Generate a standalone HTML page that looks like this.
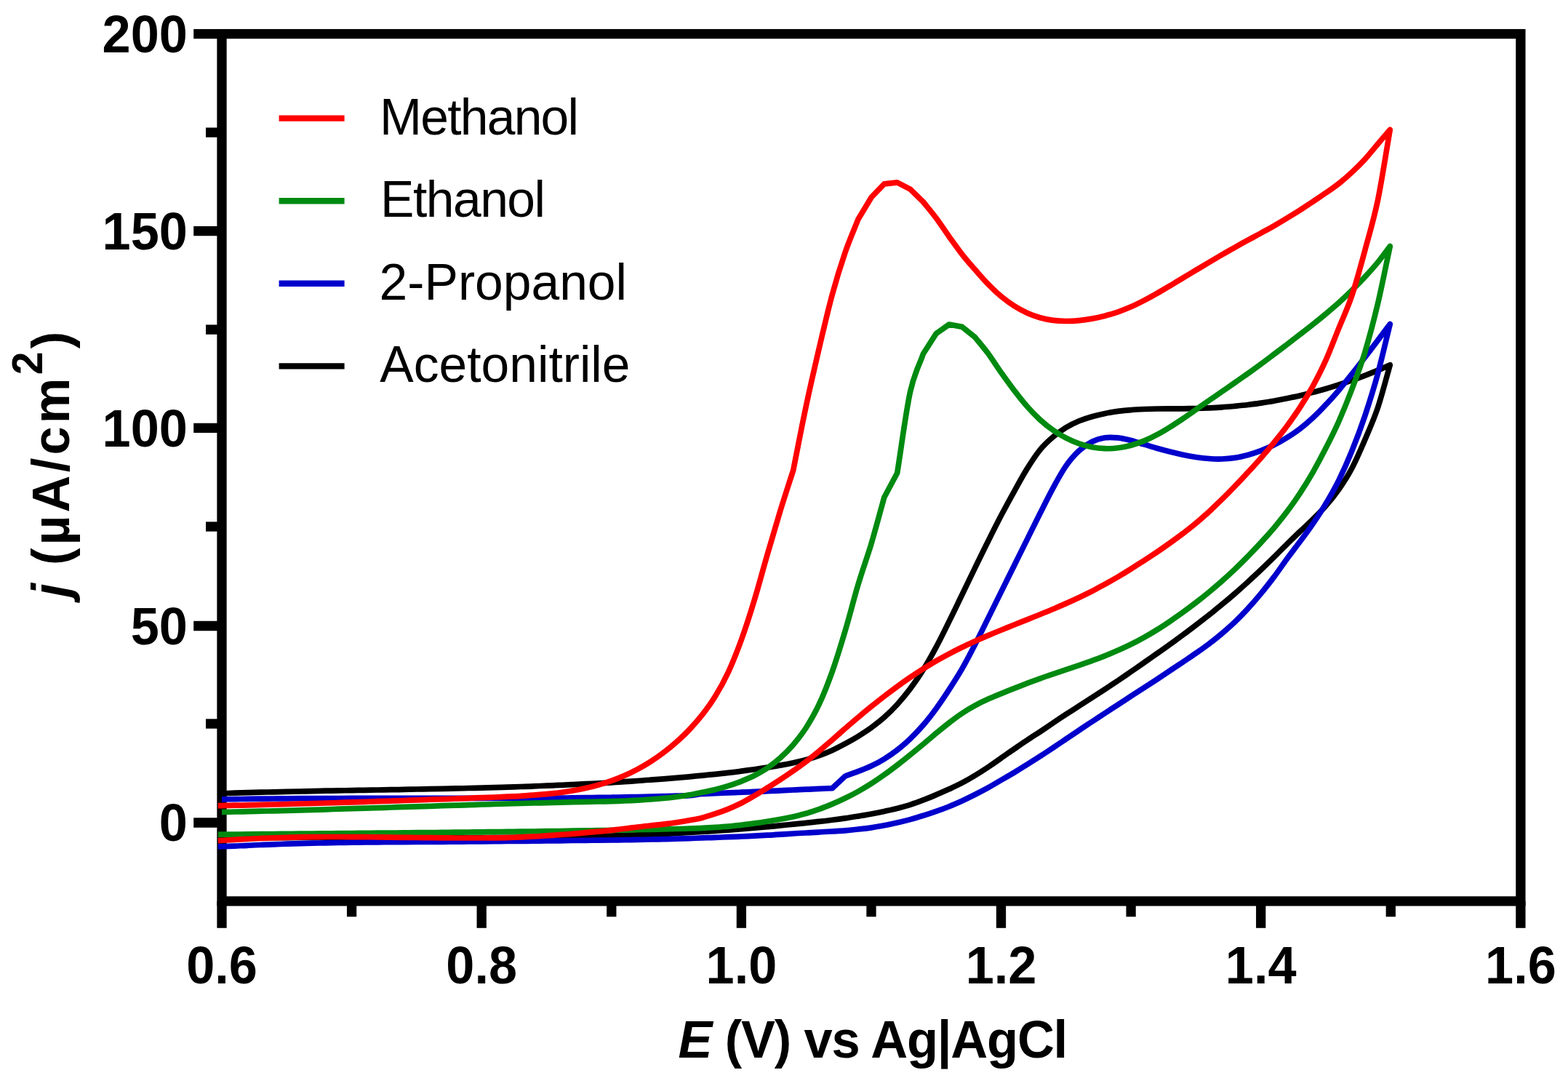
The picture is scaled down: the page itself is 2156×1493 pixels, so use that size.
<!DOCTYPE html>
<html lang="en"><head><meta charset="utf-8"><title>Cyclic voltammograms</title>
<style>
html,body{margin:0;padding:0;background:#fff;}
body{width:2156px;height:1493px;overflow:hidden;}
svg{display:block;}
text{font-family:"Liberation Sans",Arial,Helvetica,sans-serif;fill:#000;}
.b{font-weight:700;}
.tk{font-weight:700;font-size:70.3px;}
.lg{font-weight:400;font-size:69.6px;}
.ax{stroke:#000;stroke-width:13.3;fill:none;stroke-linecap:butt;}
.cv{fill:none;stroke-width:7.7;stroke-linejoin:round;stroke-linecap:butt;}
</style></head><body>
<svg xmlns="http://www.w3.org/2000/svg" width="2156" height="1493" viewBox="0 0 2156 1493">
<rect x="0" y="0" width="2156" height="1493" fill="#ffffff"/>

<rect class="ax" x="305.0" y="46.6" width="1785.9" height="1192.3"/>
<line class="ax" x1="266.2" y1="46.6" x2="305.0" y2="46.6"/>
<line class="ax" x1="266.2" y1="317.6" x2="305.0" y2="317.6"/>
<line class="ax" x1="266.2" y1="588.4" x2="305.0" y2="588.4"/>
<line class="ax" x1="266.2" y1="860.5" x2="305.0" y2="860.5"/>
<line class="ax" x1="266.2" y1="1131.0" x2="305.0" y2="1131.0"/>
<line class="ax" x1="283.0" y1="182.1" x2="305.0" y2="182.1"/>
<line class="ax" x1="283.0" y1="453.1" x2="305.0" y2="453.1"/>
<line class="ax" x1="283.0" y1="724.0" x2="305.0" y2="724.0"/>
<line class="ax" x1="283.0" y1="995.0" x2="305.0" y2="995.0"/>
<line class="ax" x1="305.0" y1="1238.9" x2="305.0" y2="1275.8"/>
<line class="ax" x1="662.2" y1="1238.9" x2="662.2" y2="1275.8"/>
<line class="ax" x1="1019.4" y1="1238.9" x2="1019.4" y2="1275.8"/>
<line class="ax" x1="1376.5" y1="1238.9" x2="1376.5" y2="1275.8"/>
<line class="ax" x1="1733.7" y1="1238.9" x2="1733.7" y2="1275.8"/>
<line class="ax" x1="2090.9" y1="1238.9" x2="2090.9" y2="1275.8"/>
<line class="ax" x1="483.6" y1="1238.9" x2="483.6" y2="1260.3"/>
<line class="ax" x1="840.8" y1="1238.9" x2="840.8" y2="1260.3"/>
<line class="ax" x1="1198.0" y1="1238.9" x2="1198.0" y2="1260.3"/>
<line class="ax" x1="1555.1" y1="1238.9" x2="1555.1" y2="1260.3"/>
<line class="ax" x1="1912.3" y1="1238.9" x2="1912.3" y2="1260.3"/>
<path class="cv" stroke="#000000" d="M305.0,1090.8C311.0,1090.6 316.9,1090.4 322.9,1090.2C328.8,1090.0 334.8,1089.9 340.7,1089.7C346.7,1089.5 352.6,1089.4 358.6,1089.2C364.5,1089.1 370.5,1088.9 376.4,1088.8C382.4,1088.6 388.3,1088.5 394.3,1088.3C400.2,1088.2 406.2,1088.1 412.2,1088.0C418.1,1087.8 424.1,1087.7 430.0,1087.6C436.0,1087.5 441.9,1087.4 447.9,1087.2C453.8,1087.1 459.8,1087.0 465.7,1086.9C471.7,1086.8 477.6,1086.7 483.6,1086.6C489.5,1086.5 495.5,1086.4 501.4,1086.3C507.4,1086.2 513.4,1086.1 519.3,1086.0C525.3,1085.9 531.2,1085.8 537.2,1085.7C543.1,1085.6 549.1,1085.5 555.0,1085.3C561.0,1085.2 566.9,1085.1 572.9,1085.0C578.8,1084.9 584.8,1084.8 590.7,1084.7C596.7,1084.6 602.7,1084.4 608.6,1084.3C614.6,1084.2 620.5,1084.1 626.5,1083.9C632.4,1083.8 638.4,1083.7 644.3,1083.5C650.3,1083.4 656.2,1083.2 662.2,1083.1C668.1,1082.9 674.1,1082.8 680.0,1082.6C686.0,1082.4 691.9,1082.2 697.9,1082.1C703.9,1081.9 709.8,1081.7 715.8,1081.5C721.7,1081.3 727.7,1081.1 733.6,1080.8C739.6,1080.6 745.5,1080.4 751.5,1080.2C757.4,1079.9 763.4,1079.7 769.3,1079.4C775.3,1079.2 781.2,1078.9 787.2,1078.6C793.1,1078.3 799.1,1078.0 805.1,1077.7C811.0,1077.4 817.0,1077.1 822.9,1076.8C828.9,1076.5 834.8,1076.1 840.8,1075.8C846.7,1075.4 852.7,1075.0 858.6,1074.7C864.6,1074.3 870.5,1073.9 876.5,1073.5C882.4,1073.0 888.4,1072.6 894.3,1072.2C900.3,1071.7 906.3,1071.3 912.2,1070.8C918.2,1070.3 924.1,1069.8 930.1,1069.3C936.0,1068.8 942.0,1068.3 947.9,1067.8C953.9,1067.2 959.8,1066.7 965.8,1066.1C971.7,1065.5 977.7,1064.9 983.6,1064.3C989.6,1063.6 995.5,1063.0 1001.5,1062.3C1007.5,1061.6 1013.4,1060.9 1019.4,1060.1C1025.3,1059.3 1031.3,1058.5 1037.2,1057.7C1043.2,1056.8 1049.1,1055.9 1055.1,1055.0C1061.0,1054.0 1067.0,1053.2 1072.9,1052.1C1078.9,1051.1 1084.8,1050.0 1090.8,1048.7C1096.7,1047.4 1102.7,1046.1 1108.7,1044.4C1114.6,1042.7 1120.6,1040.8 1126.5,1038.6C1132.5,1036.5 1138.4,1034.1 1144.4,1031.4C1150.3,1028.7 1156.3,1025.6 1162.2,1022.4C1168.2,1019.2 1174.1,1015.9 1180.1,1012.2C1186.0,1008.5 1192.0,1004.7 1198.0,1000.4C1203.9,996.0 1209.9,991.5 1215.8,986.2C1221.8,980.9 1227.7,975.0 1233.7,968.5C1239.6,961.9 1245.6,954.8 1251.5,946.9C1257.5,938.9 1263.4,930.3 1269.4,920.8C1275.3,911.3 1281.3,900.7 1287.2,889.6C1293.2,878.5 1299.2,866.2 1305.1,854.1C1311.1,842.1 1317.0,829.6 1323.0,817.3C1328.9,805.0 1334.9,792.5 1340.8,780.3C1346.8,768.1 1352.7,755.9 1358.7,744.0C1364.6,732.1 1370.6,720.2 1376.5,708.8C1382.5,697.5 1388.4,686.5 1394.4,675.8C1400.4,665.0 1406.3,653.9 1412.3,644.4C1418.2,634.8 1424.2,625.6 1430.1,618.3C1436.1,611.0 1442.0,605.7 1448.0,600.6C1453.9,595.6 1459.9,591.5 1465.8,587.8C1471.8,584.2 1477.7,581.3 1483.7,578.8C1489.6,576.3 1495.6,574.4 1501.6,572.7C1507.5,571.0 1513.5,569.6 1519.4,568.4C1525.4,567.2 1531.3,566.2 1537.3,565.4C1543.2,564.6 1549.2,564.0 1555.1,563.6C1561.1,563.1 1567.0,562.8 1573.0,562.5C1578.9,562.3 1584.9,562.2 1590.8,562.0C1596.8,561.9 1602.8,561.9 1608.7,561.9C1614.7,561.8 1620.6,561.8 1626.6,561.8C1632.5,561.7 1638.5,561.6 1644.4,561.5C1650.4,561.3 1656.3,561.1 1662.3,560.9C1668.2,560.6 1674.2,560.3 1680.1,559.8C1686.1,559.4 1692.0,558.9 1698.0,558.4C1704.0,557.8 1709.9,557.2 1715.9,556.5C1721.8,555.7 1727.8,555.0 1733.7,554.1C1739.7,553.2 1745.6,552.3 1751.6,551.2C1757.5,550.2 1763.5,549.0 1769.4,547.8C1775.4,546.6 1781.3,545.3 1787.3,543.9C1793.3,542.5 1799.2,541.0 1805.2,539.4C1811.1,537.9 1817.1,536.2 1823.0,534.5C1829.0,532.7 1834.9,530.9 1840.9,529.0C1846.8,527.1 1852.8,525.0 1858.7,522.9C1864.7,520.8 1870.6,518.6 1876.6,516.3C1882.5,514.0 1888.7,511.5 1894.5,509.1C1900.2,506.7 1905.7,504.2 1911.3,501.8C1905.7,521.3 1900.2,543.2 1894.5,560.4C1888.7,577.6 1882.5,591.1 1876.6,605.0C1870.6,619.0 1864.7,632.7 1858.7,644.0C1852.8,655.3 1846.8,664.3 1840.9,672.9C1834.9,681.5 1829.0,688.7 1823.0,695.5C1817.1,702.4 1811.1,708.0 1805.2,713.9C1799.2,719.8 1793.3,725.2 1787.3,730.9C1781.3,736.6 1775.4,742.3 1769.4,748.2C1763.5,754.0 1757.5,760.2 1751.6,766.0C1745.6,771.9 1739.7,777.8 1733.7,783.4C1727.8,789.1 1721.8,794.6 1715.9,800.0C1709.9,805.5 1704.0,810.8 1698.0,816.0C1692.0,821.2 1686.1,826.2 1680.1,831.1C1674.2,836.0 1668.2,840.7 1662.3,845.5C1656.3,850.2 1650.4,854.8 1644.4,859.3C1638.5,863.9 1632.5,868.3 1626.6,872.8C1620.6,877.2 1614.7,881.5 1608.7,885.8C1602.8,890.1 1596.8,894.3 1590.8,898.5C1584.9,902.7 1578.9,906.9 1573.0,911.0C1567.0,915.2 1561.1,919.3 1555.1,923.4C1549.2,927.5 1543.2,931.6 1537.3,935.6C1531.3,939.6 1525.4,943.5 1519.4,947.5C1513.5,951.4 1507.5,955.2 1501.6,959.1C1495.6,962.9 1489.6,966.8 1483.7,970.6C1477.7,974.4 1471.8,978.2 1465.8,982.1C1459.9,985.9 1453.9,989.9 1448.0,993.9C1442.0,997.9 1436.1,1002.0 1430.1,1006.0C1424.2,1009.9 1418.2,1013.6 1412.3,1017.6C1406.3,1021.5 1400.4,1025.6 1394.4,1029.7C1388.4,1033.8 1382.5,1038.1 1376.5,1042.2C1370.6,1046.4 1364.6,1050.6 1358.7,1054.6C1352.7,1058.6 1346.8,1062.4 1340.8,1066.0C1334.9,1069.6 1328.9,1073.1 1323.0,1076.2C1317.0,1079.3 1311.1,1082.0 1305.1,1084.8C1299.2,1087.5 1293.2,1090.1 1287.2,1092.6C1281.3,1095.2 1275.3,1097.6 1269.4,1099.9C1263.4,1102.2 1257.5,1104.4 1251.5,1106.3C1245.6,1108.2 1239.6,1109.8 1233.7,1111.4C1227.7,1112.9 1221.8,1114.1 1215.8,1115.4C1209.9,1116.7 1203.9,1117.9 1198.0,1119.0C1192.0,1120.1 1186.0,1121.2 1180.1,1122.1C1174.1,1123.1 1168.2,1124.1 1162.2,1124.9C1156.3,1125.8 1150.3,1126.6 1144.4,1127.3C1138.4,1128.1 1132.5,1128.8 1126.5,1129.4C1120.6,1130.1 1114.6,1130.7 1108.7,1131.3C1102.7,1131.9 1096.7,1132.5 1090.8,1133.1C1084.8,1133.7 1078.9,1134.3 1072.9,1134.9C1067.0,1135.5 1061.0,1136.1 1055.1,1136.7C1049.1,1137.2 1043.2,1137.7 1037.2,1138.2C1031.3,1138.7 1025.3,1139.2 1019.4,1139.7C1013.4,1140.2 1007.5,1140.6 1001.5,1141.1C995.5,1141.5 989.6,1141.9 983.6,1142.3C977.7,1142.7 971.7,1143.1 965.8,1143.5C959.8,1143.8 953.9,1144.2 947.9,1144.5C942.0,1144.8 936.0,1145.2 930.1,1145.5C924.1,1145.8 918.2,1146.1 912.2,1146.3C906.3,1146.6 900.3,1146.9 894.3,1147.1C888.4,1147.4 882.4,1147.6 876.5,1147.8C870.5,1148.0 864.6,1148.2 858.6,1148.4C852.7,1148.6 846.7,1148.8 840.8,1149.0C834.8,1149.2 828.9,1149.3 822.9,1149.5C817.0,1149.6 811.0,1149.8 805.1,1149.9C799.1,1150.0 793.1,1150.1 787.2,1150.2C781.2,1150.4 775.3,1150.5 769.3,1150.5C763.4,1150.6 757.4,1150.7 751.5,1150.8C745.5,1150.9 739.6,1150.9 733.6,1151.0C727.7,1151.1 721.7,1151.1 715.8,1151.2C709.8,1151.2 703.9,1151.3 697.9,1151.3C691.9,1151.3 686.0,1151.4 680.0,1151.4C674.1,1151.4 668.1,1151.4 662.2,1151.5C656.2,1151.5 650.3,1151.5 644.3,1151.5C638.4,1151.5 632.4,1151.5 626.5,1151.5C620.5,1151.5 614.6,1151.5 608.6,1151.5C602.7,1151.5 596.7,1151.5 590.7,1151.5C584.8,1151.5 578.8,1151.5 572.9,1151.5C566.9,1151.4 561.0,1151.4 555.0,1151.4C549.1,1151.4 543.1,1151.4 537.2,1151.4C531.2,1151.4 525.3,1151.4 519.3,1151.4C513.4,1151.4 507.4,1151.3 501.4,1151.3C495.5,1151.3 489.5,1151.3 483.6,1151.3C477.6,1151.3 471.7,1151.3 465.7,1151.3C459.8,1151.3 453.8,1151.4 447.9,1151.4C441.9,1151.4 436.0,1151.4 430.0,1151.4C424.1,1151.4 418.1,1151.5 412.2,1151.5C406.2,1151.5 400.2,1151.6 394.3,1151.6C388.3,1151.7 382.4,1151.7 376.4,1151.8C370.5,1151.8 364.5,1151.9 358.6,1152.0C352.6,1152.0 346.7,1152.1 340.7,1152.2C334.8,1152.3 329.7,1152.4 322.9,1152.5C316.0,1152.6 307.5,1152.8 299.8,1152.9"/>
<path class="cv" stroke="#0000cc" d="M305.0,1098.9C311.0,1098.8 316.9,1098.7 322.9,1098.6C328.8,1098.5 334.8,1098.5 340.7,1098.4C346.7,1098.3 352.6,1098.2 358.6,1098.2C364.5,1098.1 370.5,1098.0 376.4,1098.0C382.4,1097.9 388.3,1097.9 394.3,1097.8C400.2,1097.8 406.2,1097.7 412.2,1097.7C418.1,1097.7 424.1,1097.6 430.0,1097.6C436.0,1097.6 441.9,1097.5 447.9,1097.5C453.8,1097.5 459.8,1097.5 465.7,1097.5C471.7,1097.4 477.6,1097.4 483.6,1097.4C489.5,1097.4 495.5,1097.4 501.4,1097.4C507.4,1097.4 513.4,1097.4 519.3,1097.4C525.3,1097.4 531.2,1097.4 537.2,1097.4C543.1,1097.4 549.1,1097.4 555.0,1097.4C561.0,1097.4 566.9,1097.4 572.9,1097.4C578.8,1097.4 584.8,1097.4 590.7,1097.4C596.7,1097.4 602.7,1097.4 608.6,1097.4C614.6,1097.4 620.5,1097.4 626.5,1097.4C632.4,1097.4 638.4,1097.4 644.3,1097.4C650.3,1097.4 656.2,1097.4 662.2,1097.4C668.1,1097.4 674.1,1097.4 680.0,1097.4C686.0,1097.4 691.9,1097.4 697.9,1097.4C703.9,1097.4 709.8,1097.3 715.8,1097.3C721.7,1097.3 727.7,1097.3 733.6,1097.2C739.6,1097.2 745.5,1097.2 751.5,1097.1C757.4,1097.1 763.4,1097.0 769.3,1097.0C775.3,1097.0 781.2,1096.9 787.2,1096.8C793.1,1096.8 799.1,1096.7 805.1,1096.7C811.0,1096.6 817.0,1096.5 822.9,1096.4C828.9,1096.3 834.8,1096.2 840.8,1096.2C846.7,1096.1 852.7,1095.9 858.6,1095.8C864.6,1095.7 870.5,1095.6 876.5,1095.5C882.4,1095.4 888.4,1095.2 894.3,1095.1C900.3,1094.9 906.3,1094.8 912.2,1094.6C918.2,1094.5 924.1,1094.3 930.1,1094.1C936.0,1094.0 942.0,1094.0 947.9,1093.6C953.9,1093.1 959.8,1091.9 965.8,1091.5C971.7,1091.0 977.7,1090.9 983.6,1090.6C989.6,1090.4 995.5,1090.1 1001.5,1089.9C1007.5,1089.7 1013.4,1089.4 1019.4,1089.2C1025.3,1088.9 1031.3,1088.7 1037.2,1088.4C1043.2,1088.2 1049.1,1088.0 1055.1,1087.7C1061.0,1087.4 1067.0,1087.1 1072.9,1086.9C1078.9,1086.6 1084.8,1086.3 1090.8,1086.0C1096.7,1085.8 1102.7,1085.5 1108.7,1085.2C1114.6,1085.0 1120.6,1084.7 1126.5,1084.4C1132.5,1084.1 1138.4,1083.9 1144.4,1083.6L1162.2,1067.0C1168.2,1064.8 1174.1,1062.7 1180.1,1060.4C1186.0,1058.0 1192.0,1055.9 1198.0,1053.0C1203.9,1050.2 1209.9,1047.1 1215.8,1043.4C1221.8,1039.7 1227.7,1035.7 1233.7,1031.1C1239.6,1026.5 1245.6,1021.4 1251.5,1015.7C1257.5,1010.0 1263.4,1003.8 1269.4,996.9C1275.3,990.0 1281.3,982.4 1287.2,974.2C1293.2,966.0 1299.2,957.0 1305.1,947.9C1311.1,938.7 1317.0,929.6 1323.0,919.2C1328.9,908.9 1334.9,897.3 1340.8,885.8C1346.8,874.2 1352.7,861.9 1358.7,849.9C1364.6,837.9 1370.6,825.9 1376.5,813.9C1382.5,801.8 1388.4,789.8 1394.4,777.7C1400.4,765.7 1406.3,753.5 1412.3,741.6C1418.2,729.6 1424.2,717.6 1430.1,705.8C1436.1,694.0 1442.0,681.7 1448.0,670.8C1453.9,659.9 1459.9,648.9 1465.8,640.4C1471.8,631.9 1477.7,625.2 1483.7,619.7C1489.6,614.2 1495.6,610.3 1501.6,607.3C1507.5,604.3 1513.5,602.7 1519.4,601.8C1525.4,600.9 1531.3,601.3 1537.3,601.9C1543.2,602.5 1549.2,604.1 1555.1,605.5C1561.1,607.0 1567.0,609.1 1573.0,610.9C1578.9,612.6 1584.9,614.6 1590.8,616.3C1596.8,618.0 1602.8,619.6 1608.7,621.1C1614.7,622.6 1620.6,624.0 1626.6,625.2C1632.5,626.5 1638.5,627.6 1644.4,628.5C1650.4,629.4 1656.3,630.1 1662.3,630.5C1668.2,631.0 1674.2,631.2 1680.1,631.0C1686.1,630.8 1692.0,630.3 1698.0,629.4C1704.0,628.5 1709.9,627.1 1715.9,625.5C1721.8,623.9 1727.8,621.9 1733.7,619.7C1739.7,617.4 1745.6,614.8 1751.6,611.8C1757.5,608.8 1763.5,605.4 1769.4,601.7C1775.4,598.0 1781.3,594.1 1787.3,589.6C1793.3,585.0 1799.2,579.9 1805.2,574.4C1811.1,568.8 1817.1,562.8 1823.0,556.4C1829.0,550.1 1834.9,543.4 1840.9,536.4C1846.8,529.3 1852.8,521.8 1858.7,514.4C1864.7,506.9 1870.6,499.2 1876.6,491.5C1882.5,483.7 1888.7,475.6 1894.5,467.9C1900.2,460.2 1905.7,453.0 1911.3,445.5C1905.7,468.2 1900.2,492.6 1894.5,513.7C1888.7,534.9 1882.5,554.4 1876.6,572.2C1870.6,589.9 1864.7,605.6 1858.7,620.3C1852.8,634.9 1846.8,648.2 1840.9,660.2C1834.9,672.2 1829.0,682.5 1823.0,692.5C1817.1,702.5 1811.1,711.4 1805.2,720.1C1799.2,728.8 1793.3,736.8 1787.3,744.8C1781.3,752.9 1775.4,760.4 1769.4,768.5C1763.5,776.6 1757.5,785.5 1751.6,793.4C1745.6,801.3 1739.7,808.9 1733.7,816.1C1727.8,823.3 1721.8,830.2 1715.9,836.6C1709.9,843.1 1704.0,849.2 1698.0,855.0C1692.0,860.7 1686.1,865.9 1680.1,871.0C1674.2,876.0 1668.2,880.7 1662.3,885.2C1656.3,889.7 1650.4,893.9 1644.4,898.0C1638.5,902.2 1632.5,906.1 1626.6,910.1C1620.6,914.1 1614.7,918.1 1608.7,922.0C1602.8,926.0 1596.8,930.0 1590.8,934.0C1584.9,937.9 1578.9,941.7 1573.0,945.6C1567.0,949.4 1561.1,953.3 1555.1,957.1C1549.2,961.0 1543.2,964.9 1537.3,968.7C1531.3,972.6 1525.4,976.5 1519.4,980.4C1513.5,984.3 1507.5,988.2 1501.6,992.1C1495.6,996.1 1489.6,1000.0 1483.7,1004.0C1477.7,1008.0 1471.8,1012.0 1465.8,1016.0C1459.9,1020.0 1453.9,1024.1 1448.0,1028.0C1442.0,1032.0 1436.1,1035.9 1430.1,1039.8C1424.2,1043.6 1418.2,1047.4 1412.3,1051.1C1406.3,1054.9 1400.4,1058.5 1394.4,1062.1C1388.4,1065.6 1382.5,1069.0 1376.5,1072.5C1370.6,1076.0 1364.6,1079.6 1358.7,1082.9C1352.7,1086.2 1346.8,1089.3 1340.8,1092.3C1334.9,1095.4 1328.9,1098.2 1323.0,1101.0C1317.0,1103.7 1311.1,1106.3 1305.1,1108.7C1299.2,1111.1 1293.2,1113.3 1287.2,1115.4C1281.3,1117.5 1275.3,1119.5 1269.4,1121.3C1263.4,1123.2 1257.5,1125.0 1251.5,1126.6C1245.6,1128.2 1239.6,1129.7 1233.7,1131.0C1227.7,1132.4 1221.8,1133.6 1215.8,1134.8C1209.9,1135.9 1203.9,1137.0 1198.0,1137.9C1192.0,1138.8 1186.0,1139.4 1180.1,1140.0C1174.1,1140.7 1168.2,1141.3 1162.2,1141.8C1156.3,1142.3 1150.3,1142.6 1144.4,1143.0C1138.4,1143.3 1132.5,1143.6 1126.5,1144.0C1120.6,1144.3 1114.6,1144.6 1108.7,1145.0C1102.7,1145.3 1096.7,1145.6 1090.8,1146.0C1084.8,1146.4 1078.9,1146.7 1072.9,1147.1C1067.0,1147.5 1061.0,1147.9 1055.1,1148.2C1049.1,1148.5 1043.2,1148.8 1037.2,1149.1C1031.3,1149.4 1025.3,1149.7 1019.4,1150.0C1013.4,1150.2 1007.5,1150.5 1001.5,1150.7C995.5,1150.9 989.6,1151.1 983.6,1151.3C977.7,1151.6 971.7,1151.7 965.8,1151.9C959.8,1152.1 953.9,1152.4 947.9,1152.6C942.0,1152.8 936.0,1152.9 930.1,1153.1C924.1,1153.3 918.2,1153.5 912.2,1153.6C906.3,1153.8 900.3,1153.9 894.3,1154.0C888.4,1154.2 882.4,1154.3 876.5,1154.4C870.5,1154.5 864.6,1154.6 858.6,1154.7C852.7,1154.8 846.7,1154.9 840.8,1155.0C834.8,1155.0 828.9,1155.1 822.9,1155.2C817.0,1155.2 811.0,1155.3 805.1,1155.3C799.1,1155.4 793.1,1155.5 787.2,1155.5C781.2,1155.6 775.3,1155.7 769.3,1155.8C763.4,1155.9 757.4,1155.9 751.5,1156.0C745.5,1156.1 739.6,1156.1 733.6,1156.2C727.7,1156.3 721.7,1156.3 715.8,1156.4C709.8,1156.4 703.9,1156.5 697.9,1156.5C691.9,1156.6 686.0,1156.7 680.0,1156.7C674.1,1156.8 668.1,1156.8 662.2,1156.8C656.2,1156.9 650.3,1156.9 644.3,1157.0C638.4,1157.1 632.4,1157.1 626.5,1157.2C620.5,1157.2 614.6,1157.3 608.6,1157.3C602.7,1157.4 596.7,1157.4 590.7,1157.4C584.8,1157.5 578.8,1157.5 572.9,1157.5C566.9,1157.5 561.0,1157.5 555.0,1157.6C549.1,1157.6 543.1,1157.6 537.2,1157.7C531.2,1157.7 525.3,1157.8 519.3,1157.8C513.4,1157.9 507.4,1157.9 501.4,1158.0C495.5,1158.1 489.5,1158.1 483.6,1158.2C477.6,1158.3 471.7,1158.4 465.7,1158.5C459.8,1158.6 453.8,1158.7 447.9,1158.8C441.9,1158.9 436.0,1159.1 430.0,1159.2C424.1,1159.4 418.1,1159.5 412.2,1159.7C406.2,1159.8 400.2,1160.0 394.3,1160.2C388.3,1160.4 382.4,1160.6 376.4,1160.8C370.5,1161.0 364.5,1161.2 358.6,1161.5C352.6,1161.7 346.7,1162.0 340.7,1162.3C334.8,1162.5 329.7,1162.8 322.9,1163.1C316.0,1163.3 307.5,1163.6 299.8,1163.9"/>
<path class="cv" stroke="#008a10" d="M305.0,1116.4C311.0,1116.3 316.9,1116.2 322.9,1116.0C328.8,1115.9 334.8,1115.8 340.7,1115.6C346.7,1115.5 352.6,1115.4 358.6,1115.2C364.5,1115.1 370.5,1114.9 376.4,1114.8C382.4,1114.6 388.3,1114.5 394.3,1114.3C400.2,1114.1 406.2,1114.0 412.2,1113.8C418.1,1113.6 424.1,1113.5 430.0,1113.3C436.0,1113.1 441.9,1112.9 447.9,1112.8C453.8,1112.6 459.8,1112.4 465.7,1112.2C471.7,1112.0 477.6,1111.9 483.6,1111.7C489.5,1111.5 495.5,1111.3 501.4,1111.1C507.4,1110.9 513.4,1110.7 519.3,1110.6C525.3,1110.4 531.2,1110.2 537.2,1110.0C543.1,1109.8 549.1,1109.6 555.0,1109.4C561.0,1109.2 566.9,1109.0 572.9,1108.8C578.8,1108.6 584.8,1108.5 590.7,1108.3C596.7,1108.1 602.7,1107.9 608.6,1107.7C614.6,1107.5 620.5,1107.3 626.5,1107.1C632.4,1107.0 638.4,1106.8 644.3,1106.6C650.3,1106.4 656.2,1106.2 662.2,1106.0C668.1,1105.9 674.1,1105.7 680.0,1105.5C686.0,1105.3 691.9,1105.2 697.9,1105.0C703.9,1104.8 709.8,1104.7 715.8,1104.5C721.7,1104.3 727.7,1104.2 733.6,1104.0C739.6,1103.9 745.5,1103.7 751.5,1103.6C757.4,1103.4 763.4,1103.3 769.3,1103.1C775.3,1103.0 781.2,1102.9 787.2,1102.7C793.1,1102.6 799.1,1102.5 805.1,1102.4C811.0,1102.2 817.0,1102.1 822.9,1102.0C828.9,1101.9 834.8,1101.9 840.8,1101.7C846.7,1101.5 852.7,1101.2 858.6,1101.0C864.6,1100.7 870.5,1100.4 876.5,1100.1C882.4,1099.8 888.4,1099.4 894.3,1099.0C900.3,1098.6 906.3,1098.1 912.2,1097.5C918.2,1097.0 924.1,1096.3 930.1,1095.5C936.0,1094.8 942.0,1093.9 947.9,1092.8C953.9,1091.8 959.8,1090.4 965.8,1089.2C971.7,1088.0 977.7,1086.9 983.6,1085.4C989.6,1083.9 995.5,1082.3 1001.5,1080.4C1007.5,1078.6 1013.4,1076.5 1019.4,1074.1C1025.3,1071.7 1031.3,1069.3 1037.2,1066.3C1043.2,1063.2 1049.1,1060.0 1055.1,1055.9C1061.0,1051.8 1067.0,1047.2 1072.9,1041.9C1078.9,1036.5 1084.8,1030.7 1090.8,1023.7C1096.7,1016.7 1102.7,1009.3 1108.7,1000.0C1114.6,990.6 1120.6,980.5 1126.5,967.7C1132.5,954.9 1138.4,939.9 1144.4,923.1C1150.3,906.3 1156.3,886.9 1162.2,866.9C1168.2,846.9 1174.1,823.1 1180.1,803.2C1186.0,783.3 1192.0,767.5 1198.0,747.6C1203.9,727.6 1209.9,705.0 1215.8,683.7L1233.7,650.2C1239.6,613.1 1245.6,566.2 1251.5,538.9C1257.5,511.6 1263.4,504.0 1269.4,486.5L1287.2,458.7L1305.1,446.0L1323.0,449.4L1340.8,463.8C1346.8,471.2 1352.7,478.0 1358.7,486.0C1364.6,494.1 1370.6,503.7 1376.5,512.1C1382.5,520.5 1388.4,528.8 1394.4,536.6C1400.4,544.4 1406.3,552.1 1412.3,558.8C1418.2,565.6 1424.2,571.6 1430.1,577.1C1436.1,582.5 1442.0,587.2 1448.0,591.4C1453.9,595.6 1459.9,599.1 1465.8,602.2C1471.8,605.3 1477.7,607.8 1483.7,609.9C1489.6,612.0 1495.6,613.6 1501.6,614.8C1507.5,615.9 1513.5,616.5 1519.4,616.7C1525.4,616.9 1531.3,616.6 1537.3,615.8C1543.2,615.1 1549.2,613.9 1555.1,612.3C1561.1,610.6 1567.0,608.5 1573.0,606.1C1578.9,603.7 1584.9,600.8 1590.8,597.6C1596.8,594.5 1602.8,590.9 1608.7,587.2C1614.7,583.6 1620.6,579.5 1626.6,575.5C1632.5,571.5 1638.5,567.3 1644.4,563.2C1650.4,559.0 1656.3,554.9 1662.3,550.7C1668.2,546.6 1674.2,542.5 1680.1,538.4C1686.1,534.3 1692.0,530.2 1698.0,526.0C1704.0,521.9 1709.9,517.7 1715.9,513.5C1721.8,509.2 1727.8,504.9 1733.7,500.6C1739.7,496.2 1745.6,491.7 1751.6,487.2C1757.5,482.8 1763.5,478.2 1769.4,473.7C1775.4,469.1 1781.3,464.5 1787.3,459.9C1793.3,455.3 1799.2,450.8 1805.2,446.0C1811.1,441.3 1817.1,436.5 1823.0,431.5C1829.0,426.5 1834.9,421.6 1840.9,416.2C1846.8,410.8 1852.8,405.2 1858.7,399.3C1864.7,393.4 1870.6,387.4 1876.6,380.9C1882.5,374.5 1888.7,367.7 1894.5,360.6C1900.2,353.6 1905.7,345.9 1911.3,338.6C1905.7,364.9 1900.2,393.1 1894.5,417.4C1888.7,441.8 1882.5,465.1 1876.6,484.8C1870.6,504.5 1864.7,519.8 1858.7,535.5C1852.8,551.2 1846.8,565.7 1840.9,579.2C1834.9,592.6 1829.0,604.4 1823.0,616.1C1817.1,627.8 1811.1,638.9 1805.2,649.3C1799.2,659.7 1793.3,669.3 1787.3,678.4C1781.3,687.5 1775.4,695.8 1769.4,703.7C1763.5,711.6 1757.5,718.9 1751.6,726.0C1745.6,733.0 1739.7,739.6 1733.7,746.0C1727.8,752.5 1721.8,758.7 1715.9,764.8C1709.9,770.9 1704.0,776.8 1698.0,782.5C1692.0,788.2 1686.1,793.6 1680.1,798.9C1674.2,804.2 1668.2,809.2 1662.3,814.1C1656.3,819.1 1650.4,823.8 1644.4,828.4C1638.5,832.9 1632.5,837.4 1626.6,841.7C1620.6,846.0 1614.7,850.2 1608.7,854.2C1602.8,858.2 1596.8,862.2 1590.8,865.9C1584.9,869.6 1578.9,873.1 1573.0,876.4C1567.0,879.8 1561.1,882.9 1555.1,885.8C1549.2,888.8 1543.2,891.5 1537.3,894.1C1531.3,896.8 1525.4,899.2 1519.4,901.6C1513.5,903.9 1507.5,906.1 1501.6,908.3C1495.6,910.4 1489.6,912.5 1483.7,914.6C1477.7,916.6 1471.8,918.6 1465.8,920.6C1459.9,922.6 1453.9,924.6 1448.0,926.6C1442.0,928.6 1436.1,930.6 1430.1,932.8C1424.2,934.9 1418.2,937.1 1412.3,939.4C1406.3,941.7 1400.4,944.0 1394.4,946.4C1388.4,948.7 1382.5,951.1 1376.5,953.6C1370.6,956.0 1364.6,958.4 1358.7,961.1C1352.7,963.8 1346.8,966.6 1340.8,969.9C1334.9,973.1 1328.9,976.6 1323.0,980.6C1317.0,984.5 1311.1,989.0 1305.1,993.6C1299.2,998.2 1293.2,1003.2 1287.2,1008.1C1281.3,1013.0 1275.3,1018.2 1269.4,1023.1C1263.4,1028.1 1257.5,1032.9 1251.5,1037.7C1245.6,1042.5 1239.6,1047.3 1233.7,1051.9C1227.7,1056.5 1221.8,1061.0 1215.8,1065.2C1209.9,1069.4 1203.9,1073.5 1198.0,1077.3C1192.0,1081.1 1186.0,1084.7 1180.1,1088.0C1174.1,1091.4 1168.2,1094.4 1162.2,1097.3C1156.3,1100.2 1150.3,1102.9 1144.4,1105.4C1138.4,1107.9 1132.5,1110.3 1126.5,1112.4C1120.6,1114.5 1114.6,1116.5 1108.7,1118.2C1102.7,1119.9 1096.7,1121.3 1090.8,1122.7C1084.8,1124.0 1078.9,1125.2 1072.9,1126.2C1067.0,1127.3 1061.0,1128.3 1055.1,1129.2C1049.1,1130.2 1043.2,1131.1 1037.2,1131.9C1031.3,1132.8 1025.3,1133.5 1019.4,1134.2C1013.4,1134.9 1007.5,1135.6 1001.5,1136.1C995.5,1136.6 989.6,1137.0 983.6,1137.4C977.7,1137.8 971.7,1138.1 965.8,1138.3C959.8,1138.6 953.9,1138.8 947.9,1139.0C942.0,1139.2 936.0,1139.4 930.1,1139.5C924.1,1139.7 918.2,1139.8 912.2,1140.0C906.3,1140.1 900.3,1140.2 894.3,1140.3C888.4,1140.4 882.4,1140.6 876.5,1140.7C870.5,1140.8 864.6,1140.9 858.6,1141.0C852.7,1141.1 846.7,1141.2 840.8,1141.3C834.8,1141.4 828.9,1141.6 822.9,1141.7C817.0,1141.8 811.0,1141.8 805.1,1141.9C799.1,1142.0 793.1,1142.1 787.2,1142.2C781.2,1142.3 775.3,1142.4 769.3,1142.5C763.4,1142.6 757.4,1142.7 751.5,1142.7C745.5,1142.8 739.6,1142.9 733.6,1143.0C727.7,1143.0 721.7,1143.1 715.8,1143.2C709.8,1143.3 703.9,1143.3 697.9,1143.4C691.9,1143.5 686.0,1143.5 680.0,1143.6C674.1,1143.7 668.1,1143.7 662.2,1143.8C656.2,1143.9 650.3,1143.9 644.3,1144.0C638.4,1144.1 632.4,1144.1 626.5,1144.2C620.5,1144.2 614.6,1144.3 608.6,1144.3C602.7,1144.4 596.7,1144.5 590.7,1144.5C584.8,1144.6 578.8,1144.6 572.9,1144.7C566.9,1144.7 561.0,1144.8 555.0,1144.8C549.1,1144.9 543.1,1145.0 537.2,1145.0C531.2,1145.1 525.3,1145.1 519.3,1145.2C513.4,1145.2 507.4,1145.3 501.4,1145.3C495.5,1145.4 489.5,1145.4 483.6,1145.5C477.6,1145.5 471.7,1145.6 465.7,1145.7C459.8,1145.7 453.8,1145.8 447.9,1145.8C441.9,1145.9 436.0,1145.9 430.0,1146.0C424.1,1146.0 418.1,1146.1 412.2,1146.1C406.2,1146.2 400.2,1146.3 394.3,1146.3C388.3,1146.4 382.4,1146.4 376.4,1146.5C370.5,1146.6 364.5,1146.6 358.6,1146.7C352.6,1146.7 346.7,1146.8 340.7,1146.9C334.8,1146.9 329.7,1147.0 322.9,1147.1C316.0,1147.1 307.5,1147.2 299.8,1147.2"/>
<path class="cv" stroke="#ff0000" d="M299.8,1107.6C307.5,1107.5 316.0,1107.4 322.9,1107.2C329.7,1107.1 334.8,1107.0 340.7,1106.8C346.7,1106.7 352.6,1106.6 358.6,1106.4C364.5,1106.3 370.5,1106.1 376.4,1106.0C382.4,1105.8 388.3,1105.6 394.3,1105.5C400.2,1105.3 406.2,1105.2 412.2,1105.0C418.1,1104.8 424.1,1104.7 430.0,1104.5C436.0,1104.3 441.9,1104.2 447.9,1104.0C453.8,1103.8 459.8,1103.6 465.7,1103.5C471.7,1103.3 477.6,1103.1 483.6,1102.9C489.5,1102.7 495.5,1102.5 501.4,1102.3C507.4,1102.1 513.4,1101.9 519.3,1101.7C525.3,1101.5 531.2,1101.3 537.2,1101.1C543.1,1100.9 549.1,1100.7 555.0,1100.5C561.0,1100.3 566.9,1100.1 572.9,1099.9C578.8,1099.7 584.8,1099.5 590.7,1099.2C596.7,1099.0 602.7,1098.8 608.6,1098.6C614.6,1098.4 620.5,1098.2 626.5,1098.0C632.4,1097.7 638.4,1097.5 644.3,1097.3C650.3,1097.1 656.2,1096.8 662.2,1096.6C668.1,1096.4 674.1,1096.2 680.0,1096.0C686.0,1095.7 691.9,1095.5 697.9,1095.2C703.9,1094.9 709.8,1094.7 715.8,1094.3C721.7,1094.0 727.7,1093.6 733.6,1093.2C739.6,1092.8 745.5,1092.3 751.5,1091.7C757.4,1091.1 763.4,1090.4 769.3,1089.7C775.3,1088.9 781.2,1088.0 787.2,1087.0C793.1,1086.0 799.1,1084.9 805.1,1083.5C811.0,1082.2 817.0,1080.8 822.9,1079.1C828.9,1077.4 834.8,1075.5 840.8,1073.4C846.7,1071.3 852.7,1068.9 858.6,1066.3C864.6,1063.7 870.5,1060.8 876.5,1057.6C882.4,1054.4 888.4,1051.0 894.3,1047.2C900.3,1043.4 906.3,1039.3 912.2,1034.8C918.2,1030.3 924.1,1025.5 930.1,1020.2C936.0,1014.9 942.0,1009.3 947.9,1003.0C953.9,996.7 959.8,990.1 965.8,982.4C971.7,974.8 977.7,966.7 983.6,957.0C989.6,947.2 995.5,936.7 1001.5,923.8C1007.5,910.8 1013.4,895.9 1019.4,879.5C1025.3,863.1 1031.3,844.6 1037.2,825.1C1043.2,805.6 1049.1,782.9 1055.1,762.4C1061.0,741.9 1067.0,721.6 1072.9,702.2C1078.9,682.8 1084.8,664.9 1090.8,646.2C1096.7,616.4 1102.7,584.8 1108.7,556.8C1114.6,528.7 1120.6,503.3 1126.5,477.9C1132.5,452.6 1138.4,426.5 1144.4,404.7C1150.3,382.8 1156.3,363.9 1162.2,346.7C1168.2,329.4 1174.1,316.3 1180.1,301.2L1198.0,271.4L1215.8,252.9L1233.7,250.9L1251.5,260.1L1269.4,277.5C1275.3,284.9 1281.3,291.8 1287.2,299.8C1293.2,307.8 1299.2,317.1 1305.1,325.4C1311.1,333.7 1317.0,342.2 1323.0,349.8C1328.9,357.3 1334.9,364.0 1340.8,370.8C1346.8,377.6 1352.7,384.5 1358.7,390.6C1364.6,396.6 1370.6,402.4 1376.5,407.4C1382.5,412.3 1388.4,416.7 1394.4,420.5C1400.4,424.3 1406.3,427.5 1412.3,430.2C1418.2,432.9 1424.2,435.0 1430.1,436.7C1436.1,438.4 1442.0,439.6 1448.0,440.4C1453.9,441.2 1459.9,441.5 1465.8,441.5C1471.8,441.5 1477.7,441.1 1483.7,440.6C1489.6,440.0 1495.6,439.1 1501.6,438.1C1507.5,437.0 1513.5,435.7 1519.4,434.2C1525.4,432.6 1531.3,430.8 1537.3,428.8C1543.2,426.7 1549.2,424.4 1555.1,421.8C1561.1,419.2 1567.0,416.2 1573.0,413.1C1578.9,410.1 1584.9,406.8 1590.8,403.4C1596.8,400.0 1602.8,396.4 1608.7,392.9C1614.7,389.3 1620.6,385.7 1626.6,382.2C1632.5,378.6 1638.5,375.0 1644.4,371.4C1650.4,367.9 1656.3,364.3 1662.3,360.8C1668.2,357.3 1674.2,353.8 1680.1,350.3C1686.1,346.9 1692.0,343.4 1698.0,340.1C1704.0,336.7 1709.9,333.4 1715.9,330.1C1721.8,326.9 1727.8,323.8 1733.7,320.5C1739.7,317.2 1745.6,314.0 1751.6,310.6C1757.5,307.2 1763.5,303.6 1769.4,300.0C1775.4,296.4 1781.3,292.8 1787.3,289.0C1793.3,285.2 1799.2,281.2 1805.2,277.3C1811.1,273.3 1817.1,269.4 1823.0,265.2C1829.0,261.1 1834.9,257.1 1840.9,252.4C1846.8,247.7 1852.8,242.5 1858.7,237.0C1864.7,231.5 1870.6,225.8 1876.6,219.2C1882.5,212.7 1888.7,204.7 1894.5,197.9C1900.2,191.1 1905.7,184.8 1911.3,178.3C1905.7,210.6 1900.2,247.5 1894.5,275.2C1888.7,303.0 1882.5,323.0 1876.6,344.9C1870.6,366.8 1864.7,389.1 1858.7,406.8C1852.8,424.4 1846.8,436.4 1840.9,451.1C1834.9,465.8 1829.0,481.9 1823.0,495.2C1817.1,508.5 1811.1,519.9 1805.2,530.8C1799.2,541.6 1793.3,551.1 1787.3,560.3C1781.3,569.5 1775.4,578.0 1769.4,586.0C1763.5,594.1 1757.5,601.3 1751.6,608.6C1745.6,615.9 1739.7,622.9 1733.7,629.7C1727.8,636.5 1721.8,643.0 1715.9,649.4C1709.9,655.9 1704.0,662.2 1698.0,668.4C1692.0,674.6 1686.1,680.7 1680.1,686.6C1674.2,692.4 1668.2,698.1 1662.3,703.6C1656.3,709.0 1650.4,714.3 1644.4,719.2C1638.5,724.2 1632.5,728.8 1626.6,733.4C1620.6,737.9 1614.7,742.2 1608.7,746.5C1602.8,750.7 1596.8,754.9 1590.8,759.0C1584.9,763.0 1578.9,766.8 1573.0,770.7C1567.0,774.5 1561.1,778.4 1555.1,782.1C1549.2,785.8 1543.2,789.5 1537.3,793.0C1531.3,796.5 1525.4,799.9 1519.4,803.2C1513.5,806.5 1507.5,809.6 1501.6,812.7C1495.6,815.7 1489.6,818.6 1483.7,821.5C1477.7,824.3 1471.8,827.0 1465.8,829.6C1459.9,832.3 1453.9,834.8 1448.0,837.3C1442.0,839.9 1436.1,842.3 1430.1,844.7C1424.2,847.1 1418.2,849.5 1412.3,851.9C1406.3,854.3 1400.4,856.6 1394.4,859.0C1388.4,861.4 1382.5,863.8 1376.5,866.2C1370.6,868.6 1364.6,871.1 1358.7,873.6C1352.7,876.2 1346.8,878.7 1340.8,881.4C1334.9,884.1 1328.9,886.8 1323.0,889.7C1317.0,892.6 1311.1,895.6 1305.1,898.8C1299.2,901.9 1293.2,905.2 1287.2,908.7C1281.3,912.2 1275.3,915.8 1269.4,919.5C1263.4,923.3 1257.5,927.2 1251.5,931.3C1245.6,935.3 1239.6,939.5 1233.7,943.8C1227.7,948.2 1221.8,952.6 1215.8,957.2C1209.9,961.8 1203.9,966.5 1198.0,971.3C1192.0,976.1 1186.0,981.1 1180.1,986.1C1174.1,991.1 1168.2,996.2 1162.2,1001.4C1156.3,1006.6 1150.3,1011.9 1144.4,1017.1C1138.4,1022.3 1132.5,1027.5 1126.5,1032.4C1120.6,1037.3 1114.6,1042.1 1108.7,1046.7C1102.7,1051.2 1096.7,1055.5 1090.8,1059.7C1084.8,1063.9 1078.9,1067.9 1072.9,1071.8C1067.0,1075.7 1061.0,1079.4 1055.1,1083.1C1049.1,1086.8 1043.2,1090.5 1037.2,1094.0C1031.3,1097.4 1025.3,1101.0 1019.4,1104.0C1013.4,1107.0 1007.5,1109.7 1001.5,1112.1C995.5,1114.6 989.6,1116.7 983.6,1118.7C977.7,1120.7 971.7,1122.7 965.8,1124.2C959.8,1125.7 953.9,1126.7 947.9,1127.8C942.0,1128.9 936.0,1129.8 930.1,1130.7C924.1,1131.6 918.2,1132.3 912.2,1133.1C906.3,1133.8 900.3,1134.3 894.3,1135.0C888.4,1135.6 882.4,1136.3 876.5,1137.0C870.5,1137.7 864.6,1138.6 858.6,1139.3C852.7,1140.1 846.7,1140.7 840.8,1141.4C834.8,1142.0 828.9,1142.6 822.9,1143.2C817.0,1143.7 811.0,1144.2 805.1,1144.7C799.1,1145.2 793.1,1145.8 787.2,1146.3C781.2,1146.8 775.3,1147.2 769.3,1147.7C763.4,1148.1 757.4,1148.5 751.5,1148.9C745.5,1149.3 739.6,1149.7 733.6,1150.0C727.7,1150.3 721.7,1150.6 715.8,1150.9C709.8,1151.1 703.9,1151.4 697.9,1151.6C691.9,1151.7 686.0,1151.8 680.0,1151.8C674.1,1151.9 668.1,1151.9 662.2,1152.0C656.2,1152.0 650.3,1152.0 644.3,1152.0C638.4,1152.0 632.4,1152.0 626.5,1152.0C620.5,1151.9 614.6,1151.9 608.6,1151.8C602.7,1151.8 596.7,1151.8 590.7,1151.7C584.8,1151.6 578.8,1151.6 572.9,1151.5C566.9,1151.4 561.0,1151.4 555.0,1151.3C549.1,1151.2 543.1,1151.1 537.2,1151.1C531.2,1151.0 525.3,1150.9 519.3,1150.9C513.4,1150.8 507.4,1150.7 501.4,1150.7C495.5,1150.6 489.5,1150.6 483.6,1150.6C477.6,1150.5 471.7,1150.5 465.7,1150.5C459.8,1150.5 453.8,1150.5 447.9,1150.5C441.9,1150.6 436.0,1150.6 430.0,1150.7C424.1,1150.7 418.1,1150.8 412.2,1150.9C406.2,1151.0 400.2,1151.1 394.3,1151.3C388.3,1151.4 382.4,1151.6 376.4,1151.8C370.5,1152.0 364.5,1152.2 358.6,1152.5C352.6,1152.8 346.7,1153.0 340.7,1153.4C334.8,1153.7 329.7,1154.0 322.9,1154.4C316.0,1154.8 307.5,1155.3 299.8,1155.7"/>
<text class="tk" text-anchor="end" transform="translate(257.9 71.9) scale(1 1.025)">200</text>
<text class="tk" text-anchor="end" transform="translate(257.9 342.9) scale(1 1.025)">150</text>
<text class="tk" text-anchor="end" transform="translate(257.9 613.7) scale(1 1.025)">100</text>
<text class="tk" text-anchor="end" transform="translate(257.9 885.8) scale(1 1.025)">50</text>
<text class="tk" text-anchor="end" transform="translate(257.9 1156.3) scale(1 1.025)">0</text>
<text class="tk" text-anchor="middle" transform="translate(305.0 1351.9) scale(1 1.025)">0.6</text>
<text class="tk" text-anchor="middle" transform="translate(662.2 1351.9) scale(1 1.025)">0.8</text>
<text class="tk" text-anchor="middle" transform="translate(1019.4 1351.9) scale(1 1.025)">1.0</text>
<text class="tk" text-anchor="middle" transform="translate(1376.5 1351.9) scale(1 1.025)">1.2</text>
<text class="tk" text-anchor="middle" transform="translate(1733.7 1351.9) scale(1 1.025)">1.4</text>
<text class="tk" text-anchor="middle" transform="translate(2090.9 1351.9) scale(1 1.025)">1.6</text>
<text class="b" font-size="70.5" letter-spacing="-1.2" transform="translate(932.5 1453.8) scale(1 1.025)"><tspan font-style="italic">E</tspan> (V) vs Ag|AgCl</text>
<text class="b" font-size="70.5" letter-spacing="4.2" transform="translate(94.7,824.5) rotate(-90) scale(1 1.025)"><tspan font-style="italic" dx="3">j</tspan><tspan dx="-3"> </tspan>(µA/cm<tspan font-size="57" dy="-35.7" dx="0">2</tspan><tspan dy="35.7" dx="0">)</tspan></text>
<line x1="383.6" y1="162.6" x2="473.6" y2="162.6" stroke="#ff0000" stroke-width="8.4"/>
<text class="lg" letter-spacing="-1.75" transform="translate(522.0 184.8) scale(1 1.02)">Methanol</text>
<line x1="383.6" y1="276.2" x2="473.6" y2="276.2" stroke="#008a10" stroke-width="8.4"/>
<text class="lg" letter-spacing="-1.5" transform="translate(523.0 298.2) scale(1 1.02)">Ethanol</text>
<line x1="383.6" y1="389.8" x2="473.6" y2="389.8" stroke="#0000cc" stroke-width="8.4"/>
<text class="lg" letter-spacing="0" transform="translate(521.6 411.6) scale(1 1.02)">2-Propanol</text>
<line x1="383.6" y1="503.4" x2="473.6" y2="503.4" stroke="#000000" stroke-width="8.4"/>
<text class="lg" letter-spacing="0" transform="translate(522.3 525.0) scale(1 1.02)">Acetonitrile</text>
</svg></body></html>
